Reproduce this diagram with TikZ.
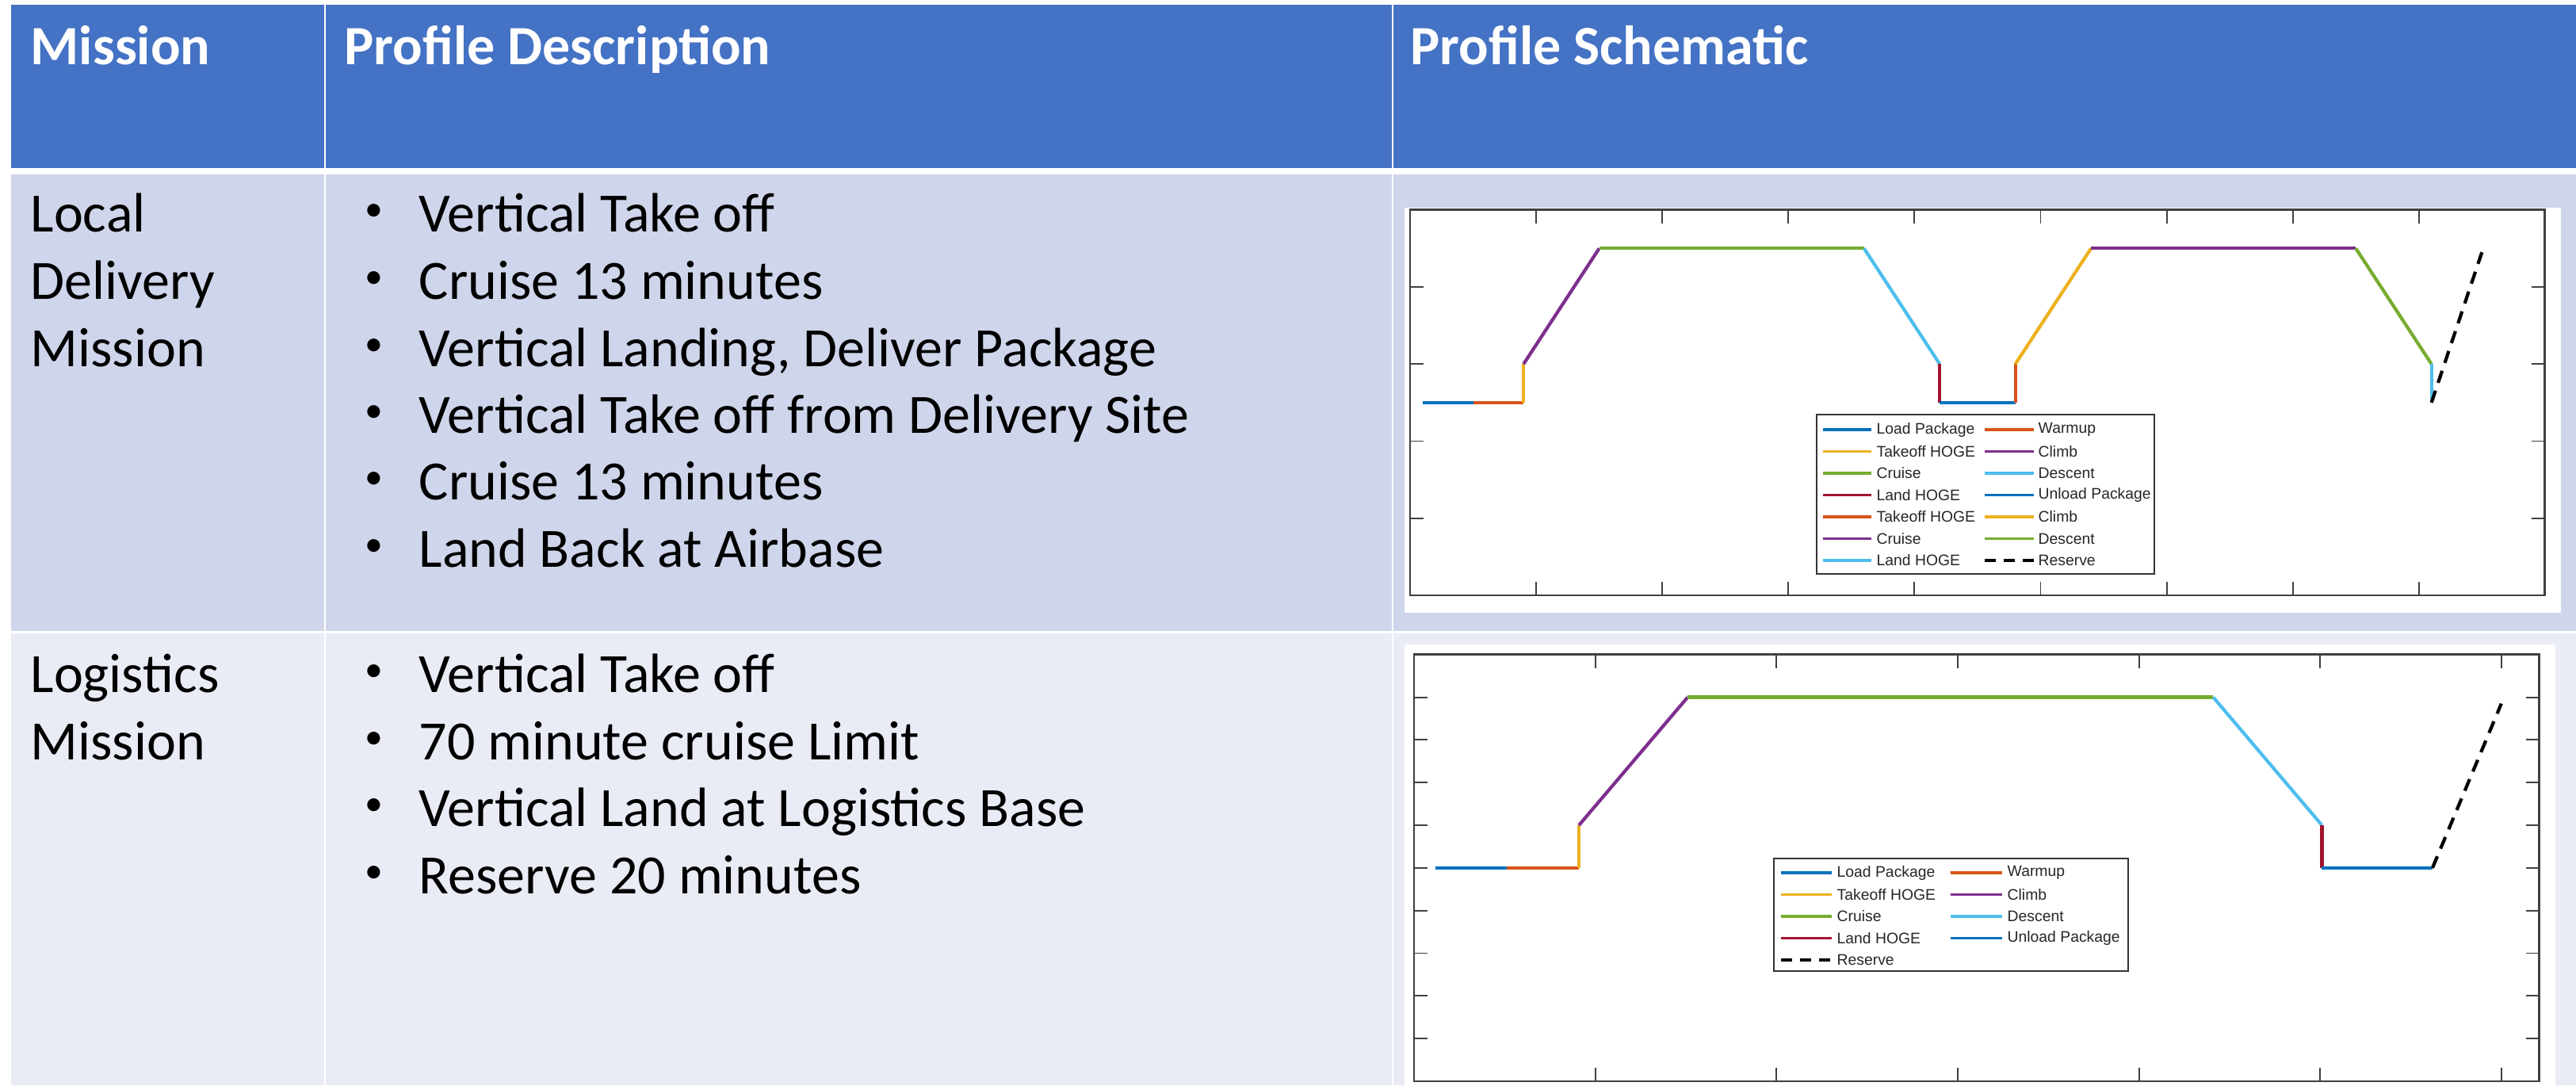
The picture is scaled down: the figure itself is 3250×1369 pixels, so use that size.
\documentclass[tikz,border=0pt]{standalone}
\usepackage{fontspec}
\setmainfont{Carlito}
\newfontfamily\legfont{Liberation Sans}
\usepackage{tikz}

\definecolor{hdrblue}{HTML}{4472C4}
\definecolor{rowone}{HTML}{CFD5EA}
\definecolor{rowtwo}{HTML}{E9EBF5}
\definecolor{mlblue}{HTML}{0072BD}
\definecolor{mlorange}{HTML}{D95319}
\definecolor{mlyellow}{HTML}{EDB120}
\definecolor{mlpurple}{HTML}{7E2F8E}
\definecolor{mlgreen}{HTML}{77AC30}
\definecolor{mlcyan}{HTML}{4DBEEE}
\definecolor{mlred}{HTML}{A2142F}

\tikzset{
  hdr/.style={anchor=base west, inner sep=0pt, text=white, font=\fontsize{19.9}{24}\selectfont\bfseries},
  cell/.style={anchor=base west, inner sep=0pt, font=\fontsize{19.9}{24}\selectfont},
  bulletmark/.style={anchor=center, inner sep=0pt, font=\fontsize{13}{14}\selectfont},
  axisline/.style={draw=black!75, line width=0.8pt},
  tickline/.style={black!75, line width=0.55pt},
  seg/.style={line width=1.2pt},
  reserve/.style={black, line width=1.2pt, dash pattern=on 4.5pt off 3pt},
  legbox/.style={draw=black!80, fill=white, line width=0.6pt},
  legline/.style={line width=0.9pt},
  legdash/.style={black, line width=0.9pt, dash pattern=on 4pt off 2.8pt},
  legtext/.style={anchor=west, inner sep=0pt, text=black!85, font=\legfont\fontsize{5.5}{6}\selectfont},
}

\begin{document}
\begin{tikzpicture}[x=0.01cm, y=-0.01cm]
    \useasboundingbox (0,0) rectangle (3250,1369);
    \fill[white] (0,0) rectangle (3250,1369);

    \fill[hdrblue] (14,6) rectangle (3250,212);
    \fill[rowone] (14,220) rectangle (3250,796);
    \fill[rowtwo] (14,799) rectangle (3250,1369);
    \draw[white, line width=0.8pt] (410,6) -- (410,1369);
    \draw[white, line width=0.8pt] (1757,6) -- (1757,1369);

    \node[hdr] (hmis) at (38,81) {Mission};
    \node[hdr] (hdesc) at (434,81) {Profile Description};
    \node[hdr] (hschem) at (1779,81) {Profile Schematic};

    \node[cell] (loc1) at (38,292) {Local};
    \node[cell] (loc2) at (38,377) {Delivery};
    \node[cell] (loc3) at (38,462) {Mission};
    \node[cell] (log1) at (38,873) {Logistics};
    \node[cell] (log2) at (38,958) {Mission};

    \foreach \y in {292,377,462,546,630,715,873,958,1042,1127}
        \node[bulletmark] (bul\y) at (472,{\y-24}) {\textbullet};

    \node[cell] (d1) at (528,292) {Vertical Take off};
    \node[cell] (d2) at (528,377) {Cruise 13 minutes};
    \node[cell] (d3) at (528,462) {Vertical Landing, Deliver Package};
    \node[cell] (d4) at (528,546) {Vertical Take off from Delivery Site};
    \node[cell] (d5) at (528,630) {Cruise 13 minutes};
    \node[cell] (d6) at (528,715) {Land Back at Airbase};

    \node[cell] (g1) at (528,873) {Vertical Take off};
    \node[cell] (g2) at (528,958) {70 minute cruise Limit};
    \node[cell] (g3) at (528,1042) {Vertical Land at Logistics Base};
    \node[cell] (g4) at (528,1127) {Reserve 20 minutes};

    % local delivery profile
    \fill[white] (1772,262) rectangle (3231,773);
    \coordinate (orgA) at (1779,751);
    \begin{scope}[shift={(orgA)}, x=1.59cm, y=0.972cm]
        \draw[axisline] (0,0) rectangle (9,5);
        \foreach \k in {1,...,8} {
            \draw[tickline] (\k,0) -- ++(0,0.17cm);
            \draw[tickline] (\k,5) -- ++(0,-0.17cm);
        }
        \foreach \k in {1,...,4} {
            \draw[tickline] (0,\k) -- ++(0.17cm,0);
            \draw[tickline] (9,\k) -- ++(-0.17cm,0);
        }
        \coordinate (a0) at (0.1,2.5);
        \coordinate (a1) at (0.5,2.5);
        \coordinate (a2) at (0.9,2.5);
        \coordinate (a3) at (0.9,3);
        \coordinate (a4) at (1.5,4.5);
        \coordinate (a5) at (3.6,4.5);
        \coordinate (a6) at (4.2,3);
        \coordinate (a7) at (4.2,2.5);
        \coordinate (a8) at (4.8,2.5);
        \coordinate (a9) at (4.8,3);
        \coordinate (a10) at (5.4,4.5);
        \coordinate (a11) at (7.5,4.5);
        \coordinate (a12) at (8.1,3);
        \coordinate (a13) at (8.1,2.5);
        \coordinate (a14) at (8.5,4.45);
        \draw[seg, mlblue] (a0) -- (a1);
        \draw[seg, mlorange] (a1) -- (a2);
        \draw[seg, mlyellow] (a2) -- (a3);
        \draw[seg, mlpurple] (a3) -- (a4);
        \draw[seg, mlgreen] (a4) -- (a5);
        \draw[seg, mlcyan] (a5) -- (a6);
        \draw[seg, mlred] (a6) -- (a7);
        \draw[seg, mlblue] (a7) -- (a8);
        \draw[seg, mlorange] (a8) -- (a9);
        \draw[seg, mlyellow] (a9) -- (a10);
        \draw[seg, mlpurple] (a10) -- (a11);
        \draw[seg, mlgreen] (a11) -- (a12);
        \draw[seg, mlcyan] (a12) -- (a13);
        \draw[reserve] (a13) -- (a14);
    \end{scope}

    \draw[legbox] (2292,523) rectangle (2718,724);
    \foreach \col/\lbl [count=\i from 0] in {mlblue/Load Package, mlyellow/Takeoff HOGE, mlgreen/Cruise, mlred/Land HOGE, mlorange/Takeoff HOGE, mlpurple/Cruise, mlcyan/Land HOGE} {
        \draw[legline, \col] (2300,{542+27.5*\i}) -- (2361,{542+27.5*\i});
        \node[legtext] (la\i) at (2367,{542+27.5*\i}) {\lbl};
    }
    \foreach \col/\lbl [count=\i from 0] in {mlorange/Warmup, mlpurple/Climb, mlcyan/Descent, mlblue/Unload Package, mlyellow/Climb, mlgreen/Descent} {
        \draw[legline, \col] (2504,{542+27.5*\i}) -- (2566,{542+27.5*\i});
        \node[legtext] (lb\i) at (2571,{542+27.5*\i}) {\lbl};
    }
    \draw[legdash] (2504,707) -- (2566,707);
    \node[legtext] (lbres) at (2571,707) {Reserve};

    % logistics profile
    \fill[white] (1772,813) rectangle (3224,1369);
    \coordinate (orgB) at (1784,1364);
    \begin{scope}[shift={(orgB)}, x=2.285cm, y=0.538cm]
        \draw[axisline] (0,0) rectangle (6.21,10);
        \foreach \k in {1,...,6} {
            \draw[tickline] (\k,0) -- ++(0,0.17cm);
            \draw[tickline] (\k,10) -- ++(0,-0.17cm);
        }
        \foreach \k in {1,...,9} {
            \draw[tickline] (0,\k) -- ++(0.17cm,0);
            \draw[tickline] (6.21,\k) -- ++(-0.17cm,0);
        }
        \coordinate (b0) at (0.12,5);
        \coordinate (b1) at (0.51,5);
        \coordinate (b2) at (0.91,5);
        \coordinate (b3) at (0.91,6);
        \coordinate (b4) at (1.51,9);
        \coordinate (b5) at (4.41,9);
        \coordinate (b6) at (5.01,6);
        \coordinate (b7) at (5.01,5);
        \coordinate (b8) at (5.62,5);
        \coordinate (b9) at (6.0,8.85);
        \draw[seg, mlblue] (b0) -- (b1);
        \draw[seg, mlorange] (b1) -- (b2);
        \draw[seg, mlyellow] (b2) -- (b3);
        \draw[seg, mlpurple] (b3) -- (b4);
        \draw[seg, mlgreen] (b4) -- (b5);
        \draw[seg, mlcyan] (b5) -- (b6);
        \draw[seg, mlred] (b6) -- (b7);
        \draw[seg, mlblue] (b7) -- (b8);
        \draw[reserve] (b8) -- (b9);
    \end{scope}

    \draw[legbox] (2238,1083) rectangle (2685,1225);
    \foreach \col/\lbl [count=\i from 0] in {mlblue/Load Package, mlyellow/Takeoff HOGE, mlgreen/Cruise, mlred/Land HOGE} {
        \draw[legline, \col] (2247,{1101+27.5*\i}) -- (2311,{1101+27.5*\i});
        \node[legtext] (lc\i) at (2317,{1101+27.5*\i}) {\lbl};
    }
    \draw[legdash] (2247,1211) -- (2311,1211);
    \node[legtext] (lcres) at (2317,1211) {Reserve};
    \foreach \col/\lbl [count=\i from 0] in {mlorange/Warmup, mlpurple/Climb, mlcyan/Descent, mlblue/Unload Package} {
        \draw[legline, \col] (2461,{1101+27.5*\i}) -- (2526,{1101+27.5*\i});
        \node[legtext] (ld\i) at (2532,{1101+27.5*\i}) {\lbl};
    }
\end{tikzpicture}
\end{document}
